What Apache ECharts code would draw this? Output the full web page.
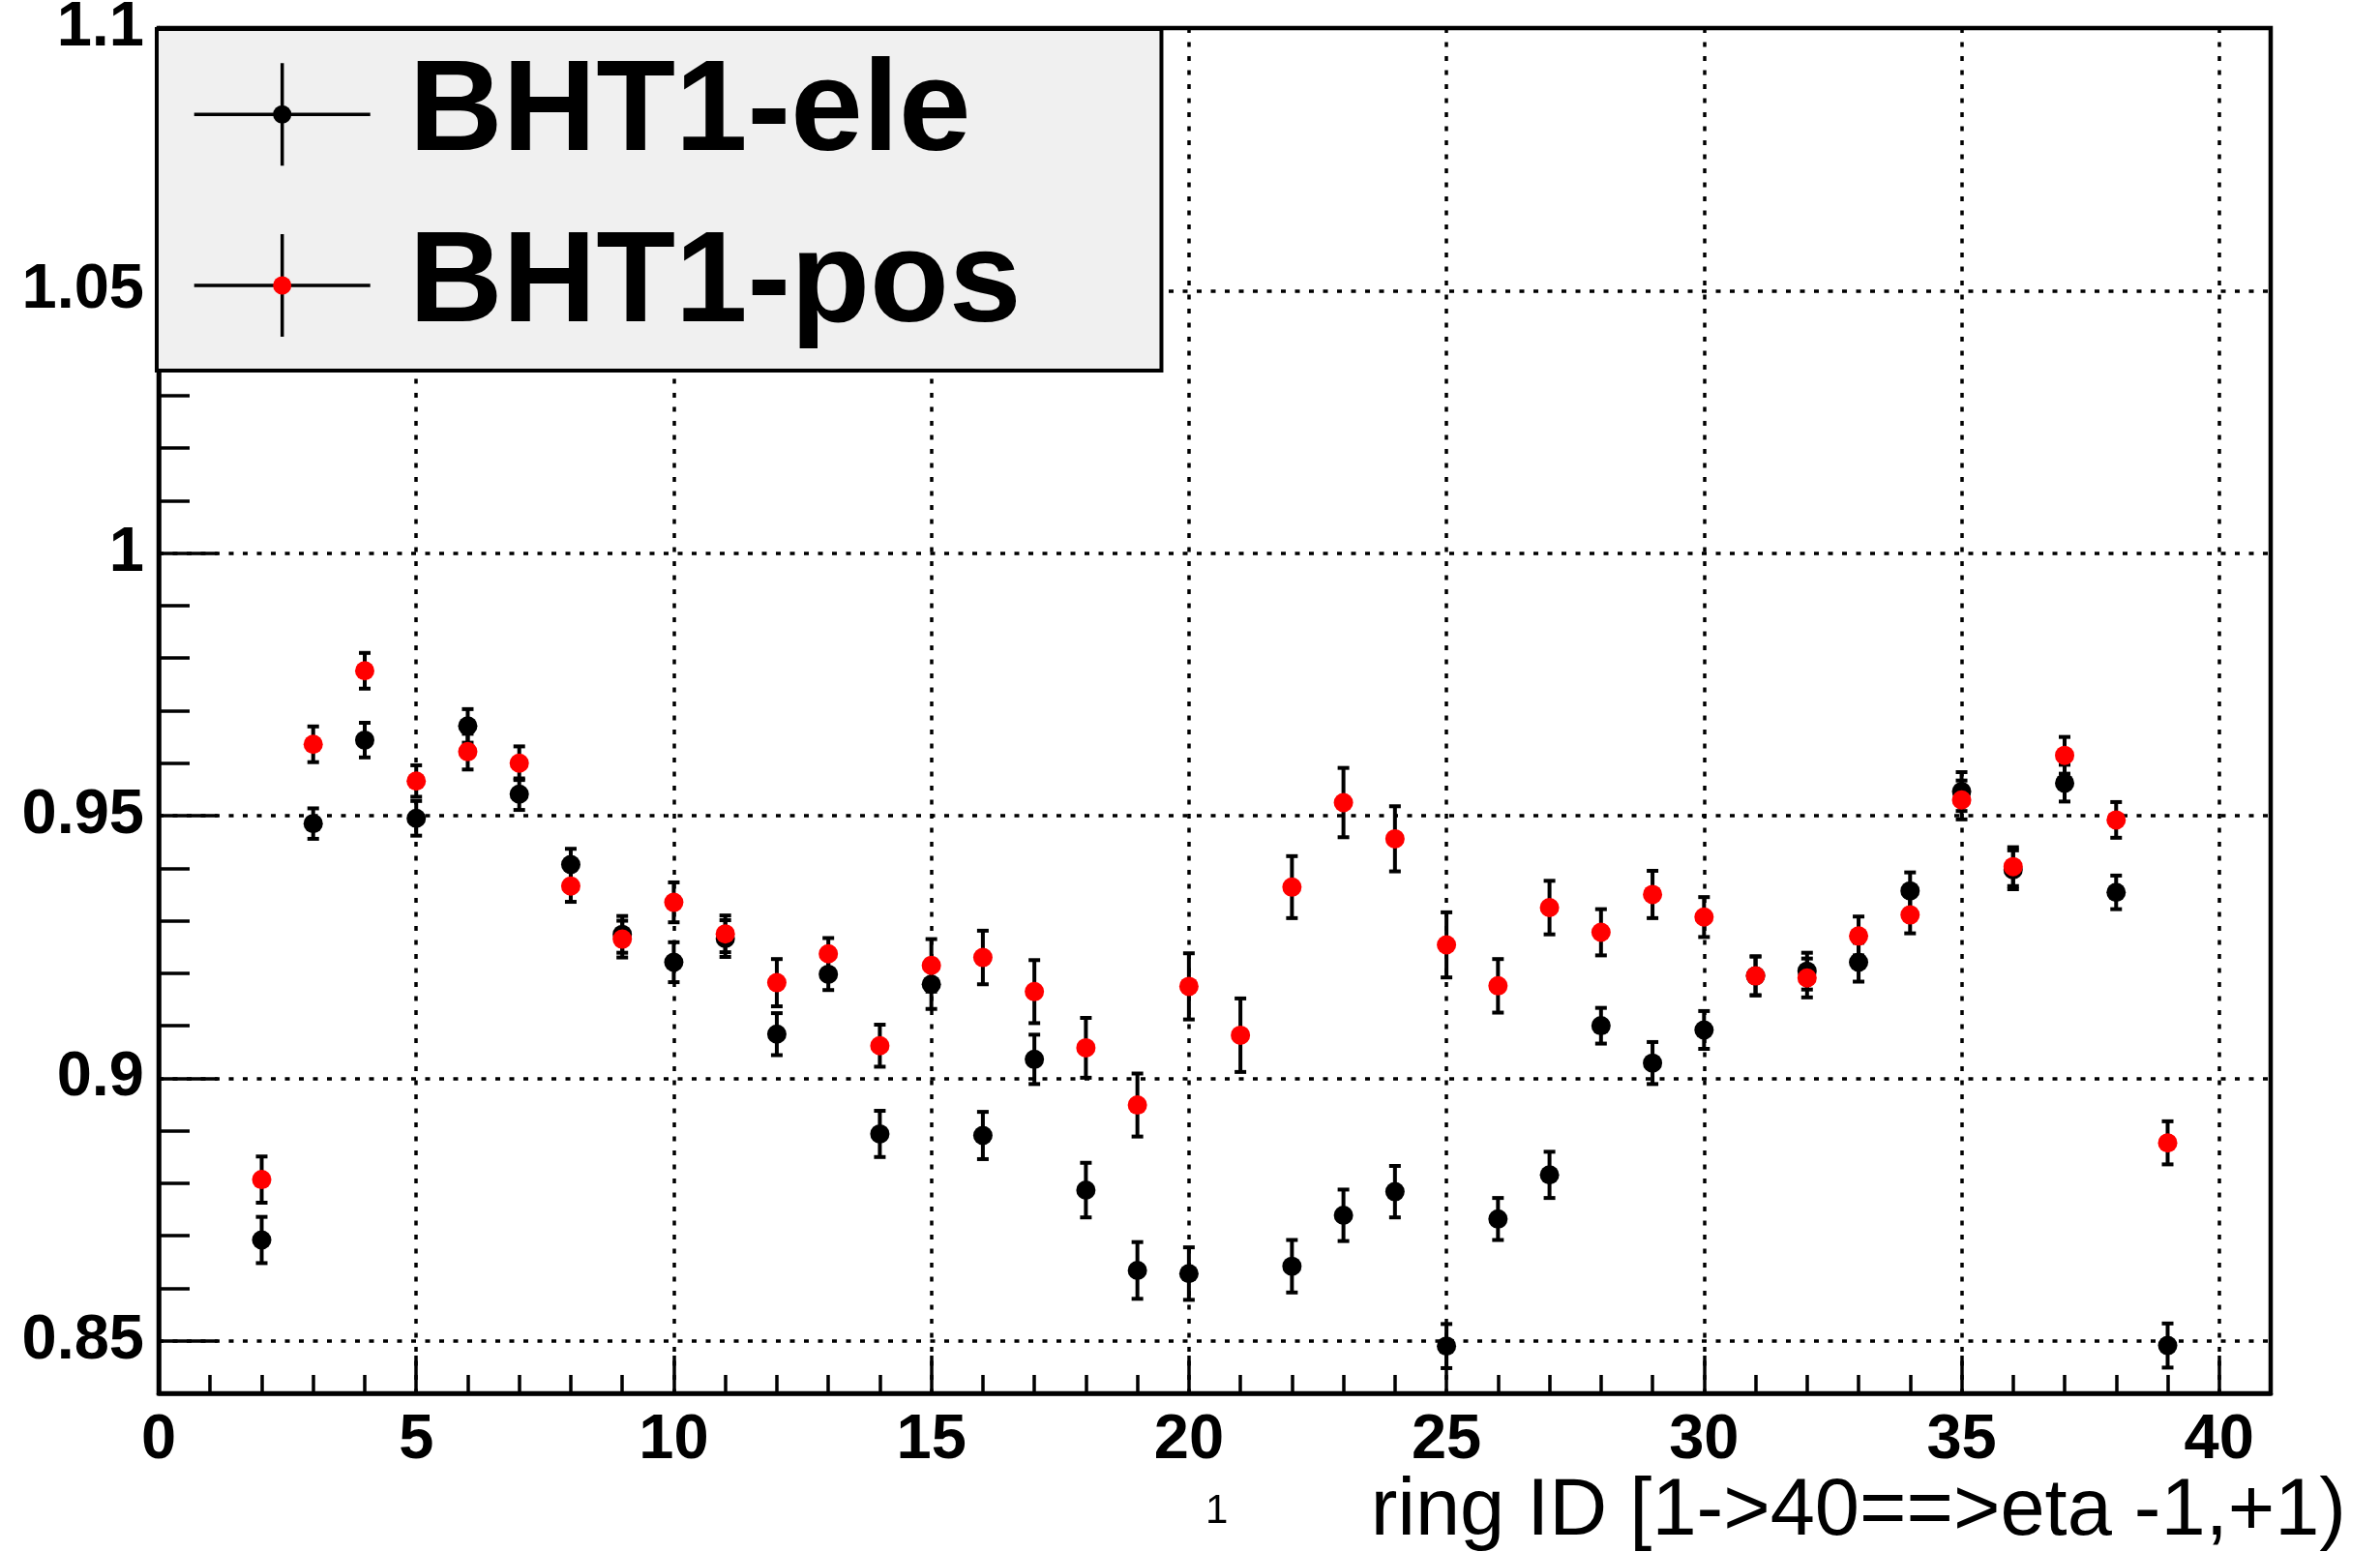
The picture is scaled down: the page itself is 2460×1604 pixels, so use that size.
<!DOCTYPE html>
<html>
<head>
<meta charset="utf-8">
<script src="https://cdn.jsdelivr.net/npm/echarts@6/dist/echarts.min.js"></script>
<style>
html,body{margin:0;padding:0;background:#fff;}
#chart{width:2460px;height:1604px;}
</style>
</head>
<body>
<div id="chart"></div>
<script>
// ---- data ----
const ringIds = [2,3,4,5,6,7,8,9,10,11,12,13,14,15,16,17,18,19,20,21,22,23,24,25,26,27,28,29,30,31,32,33,34,35,36,37,38,39];
const eleValues = [0.8692,0.9485,0.9644,0.9495,0.9671,0.9541,0.9407,0.9274,0.9221,0.9266,0.9084,0.9198,0.8894,0.9179,0.8891,0.9036,0.8787,0.8634,0.8628,null,0.8642,0.8739,0.8784,0.8490,0.8732,0.8816,0.9100,0.9029,0.9092,0.9195,0.9204,0.9221,0.9357,0.9546,0.9397,0.9562,0.9354,0.8491];
const eleErrors = [0.0044,0.0029,0.0033,0.0033,0.0032,0.0030,0.0030,0.0035,0.0038,0.0035,0.0040,0.0030,0.0044,0.0047,0.0045,0.0047,0.0052,0.0054,0.0050,null,0.0050,0.0049,0.0049,0.0042,0.0040,0.0044,0.0034,0.0040,0.0036,0.0037,0.0035,0.0037,0.0035,0.0037,0.0037,0.0035,0.0032,0.0042];
const posValues = [0.8807,0.9636,0.9776,0.9566,0.9622,0.9600,0.9366,0.9265,0.9335,0.9275,0.9182,0.9237,0.9062,0.9215,0.9230,0.9165,0.9058,0.8949,0.9175,0.9082,0.9364,0.9525,0.9456,0.9254,0.9176,0.9325,0.9278,0.9350,0.9307,0.9195,0.9191,0.9271,0.9311,0.9530,0.9403,0.9615,0.9492,0.8877];
const posErrors = [0.0044,0.0034,0.0034,0.0030,0.0034,0.0032,0.0030,0.0035,0.0038,0.0035,0.0045,0.0030,0.0040,0.0050,0.0051,0.0060,0.0057,0.0060,0.0063,0.0070,0.0059,0.0066,0.0062,0.0062,0.0051,0.0051,0.0044,0.0045,0.0038,0.0037,0.0037,0.0037,0.0035,0.0037,0.0037,0.0035,0.0034,0.0041];
const seriesNames = ['BHT1-ele','BHT1-pos'];
const xAxisTitle = 'ring ID [1->40==>eta -1,+1)';
const strayLabel = '1';

// ---- build ----
function pts(vals){ const o=[]; ringIds.forEach((r,i)=>{ if(vals[i]!=null) o.push([r, vals[i]]); }); return o; }
function errs(vals, es){ const o=[]; ringIds.forEach((r,i)=>{ if(vals[i]!=null) o.push([r, vals[i], es[i]]); }); return o; }

const FONT = "'Liberation Sans', Arial, Helvetica, sans-serif";

function errRender(params, api){
  const x = api.value(0), v = api.value(1), e = api.value(2);
  const t = api.coord([x, v + e]);
  const b = api.coord([x, v - e]);
  const hw = 6;
  const st = {stroke:'#000', lineWidth:4, fill:null};
  return {type:'group', children:[
    {type:'line', shape:{x1:t[0],y1:t[1],x2:b[0],y2:b[1]}, style:st},
    {type:'line', shape:{x1:t[0]-hw,y1:t[1],x2:t[0]+hw,y2:t[1]}, style:st},
    {type:'line', shape:{x1:b[0]-hw,y1:b[1],x2:b[0]+hw,y2:b[1]}, style:st}
  ]};
}

const crossIcon = 'path://M0,51.25 L182,51.25 L182,54.75 L0,54.75 Z M89.25,0 L92.75,0 L92.75,106 L89.25,106 Z';

const gridDash = {color:'#000', width:3.5, type:[5,9.5]};
const tickStyle = {color:'#000', width:3.5};

const chart = echarts.init(document.getElementById('chart'), null, {renderer:'canvas'});
chart.setOption({
  backgroundColor:'#fff',
  animation:false,
  grid:{left:164, right:113, top:29, bottom:164, containLabel:false, outerBoundsMode:'none',
        show:true, borderColor:'#000', borderWidth:4.5, backgroundColor:'transparent'},
  xAxis:{
    type:'value', min:0, max:41, interval:5,
    axisLine:{show:true, lineStyle:{color:'#000', width:4.5}},
    axisTick:{show:true, inside:true, length:39, lineStyle:tickStyle},
    minorTick:{show:true, splitNumber:5, length:19, lineStyle:tickStyle},
    splitLine:{show:true, showMinLine:false, showMaxLine:false, lineStyle:gridDash},
    axisLabel:{show:true, showMaxLabel:false, margin:17, color:'#000', fontFamily:FONT, fontWeight:'bold', fontSize:65}
  },
  yAxis:{
    type:'value', min:0.84, max:1.1, splitNumber:5, minInterval:0.05, maxInterval:0.05,
    axisLine:{show:true, lineStyle:{color:'#000', width:4.5}},
    axisTick:{show:true, inside:true, length:61, lineStyle:tickStyle},
    minorTick:{show:true, splitNumber:5, length:32, lineStyle:tickStyle},
    splitLine:{show:true, showMinLine:false, showMaxLine:false, lineStyle:gridDash},
    axisLabel:{show:true, showMinLabel:false, margin:15, color:'#000', fontFamily:FONT, fontWeight:'bold', fontSize:65}
  },
  legend:{
    show:true, orient:'vertical', left:162, top:30,
    padding:[21.3,145,21,38.7],
    itemWidth:182, itemHeight:106, itemGap:42.7,
    backgroundColor:'#f0f0f0', borderColor:'#000', borderWidth:4,
    selectedMode:false,
    itemStyle:{color:'#000', borderWidth:0, opacity:1},
    textStyle:{color:'#000', fontFamily:FONT, fontWeight:'bold', fontSize:134, padding:[0,0,0,35]},
    data:[
      {name:seriesNames[0], icon:crossIcon, itemStyle:{color:'#000', borderWidth:0, opacity:1}},
      {name:seriesNames[1], icon:crossIcon, itemStyle:{color:'#000', borderWidth:0, opacity:1}}
    ]
  },
  graphic:[
    {type:'circle', z:100, shape:{cx:291.7, cy:118.3, r:9.5}, style:{fill:'#000'}},
    {type:'circle', z:100, shape:{cx:291.7, cy:295, r:9.5}, style:{fill:'#ff0000'}},
    {type:'text', z:100, left:1246, top:1541, style:{text:strayLabel, fill:'#000', font:'normal 42px ' + FONT}},
    {type:'text', z:100, right:35, top:1522, style:{text:xAxisTitle, fill:'#000', font:'normal 83px ' + FONT}}
  ],
  series:[
    {name:seriesNames[0], type:'custom', renderItem:errRender, data:errs(eleValues, eleErrors), encode:{x:0,y:1}, z:2, silent:true, itemStyle:{color:'#000'}},
    {name:seriesNames[0], type:'scatter', data:pts(eleValues), symbol:'circle', symbolSize:20, itemStyle:{color:'#000', opacity:1}, z:3, silent:true},
    {name:seriesNames[1], type:'custom', renderItem:errRender, data:errs(posValues, posErrors), encode:{x:0,y:1}, z:4, silent:true, itemStyle:{color:'#000'}},
    {name:seriesNames[1], type:'scatter', data:pts(posValues), symbol:'circle', symbolSize:20, itemStyle:{color:'#ff0000', opacity:1}, z:5, silent:true}
  ]
});
</script>
</body>
</html>
